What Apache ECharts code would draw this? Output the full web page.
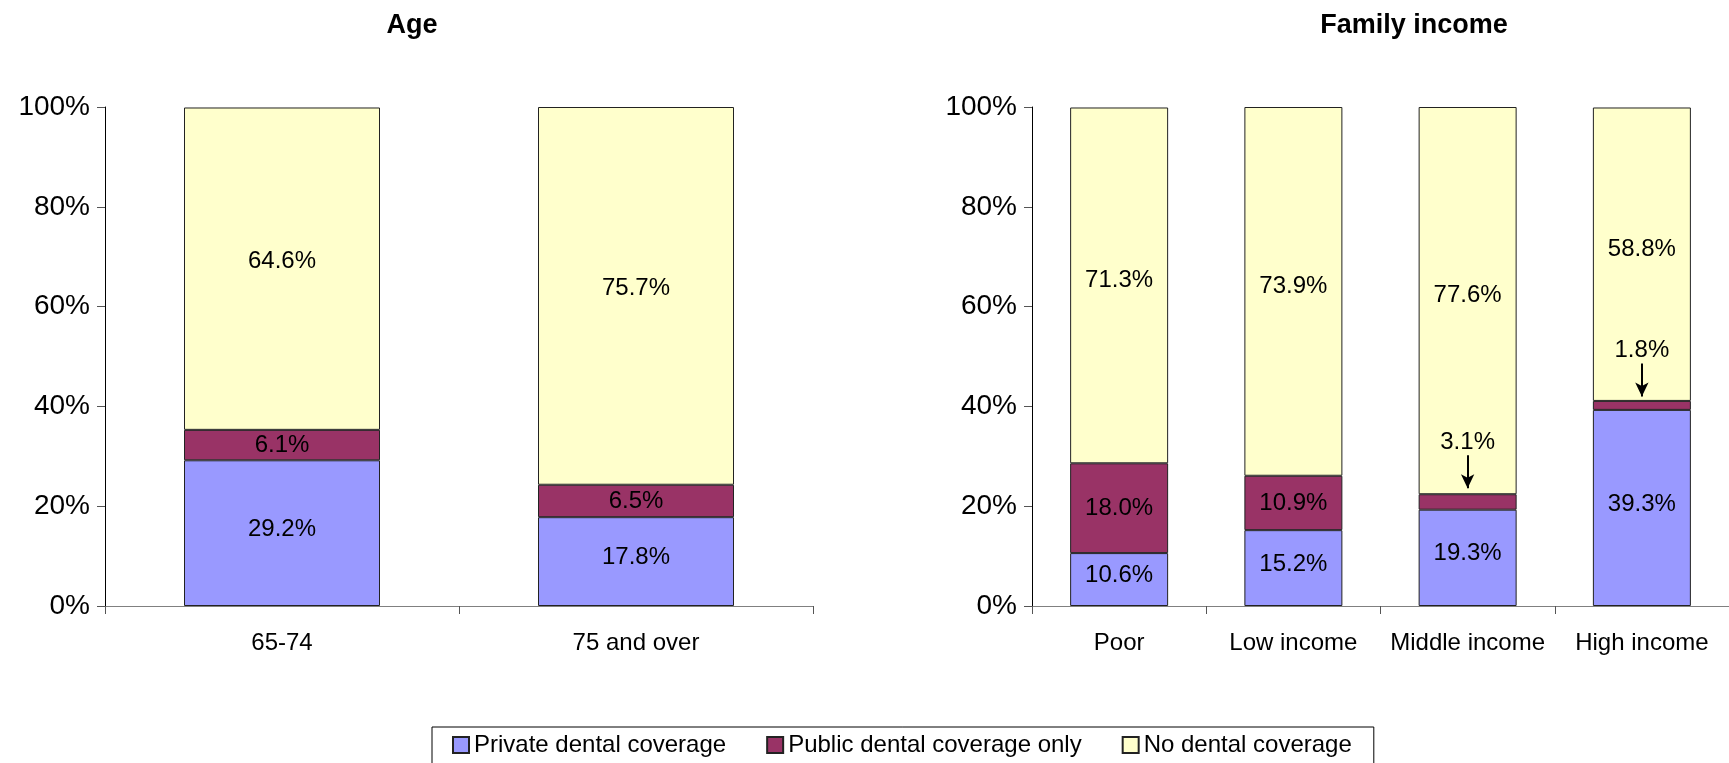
<!DOCTYPE html>
<html>
<head>
<meta charset="utf-8">
<script src="https://cdn.jsdelivr.net/npm/echarts@6/dist/echarts.min.js"></script>
<style>
html,body{margin:0;padding:0;background:#fff;}
#chart{width:1729px;height:763px;}
</style>
</head>
<body>
<div id="chart"></div>
<script>
// data
var ageCats = ['65-74', '75 and over'];
var agePrivate = [29.2, 17.8];
var agePublic = [6.1, 6.5];
var ageNone = [64.6, 75.7];

var incCats = ['Poor', 'Low income', 'Middle income', 'High income'];
var incPrivate = [10.6, 15.2, 19.3, 39.3];
var incPublic = [18.0, 10.9, 3.1, 1.8];
var incNone = [71.3, 73.9, 77.6, 58.8];

// small segments labelled with an arrow: [category, value, arrow top, arrow bottom]
var arrowNotes = [
	['Middle income', 3.1, 30.2, 23.6],
	['High income', 1.8, 48.6, 42.0]
];

var yTicks = [0, 20, 40, 60, 80, 100];

var FONT = 'Liberation Sans, Arial, sans-serif';
var colors = {priv: '#9999FF', pub: '#993366', none: '#FFFFCC'};
var names = ['Private dental coverage', 'Public dental coverage only', 'No dental coverage'];

function segLabel(dy){
	return {
		show: true,
		position: 'inside',
		offset: [0, dy || 0],
		color: '#000',
		fontFamily: FONT,
		fontSize: 24,
		formatter: function(p){ return p.value.toFixed(1) + '%'; }
	};
}

function barSeries(name, data, color, idx, stack, width, dy){
	return {
		name: name,
		type: 'bar',
		stack: stack,
		xAxisIndex: idx,
		yAxisIndex: idx,
		barWidth: width,
		data: data,
		itemStyle: {color: color, borderColor: '#222', borderWidth: 1},
		label: segLabel(dy)
	};
}

function xAx(idx, cats){
	return {
		type: 'category',
		gridIndex: idx,
		data: cats,
		axisLine: {show: true, lineStyle: {color: '#808080', width: 1}},
		axisTick: {show: true, length: 8, lineStyle: {color: '#555'}},
		axisLabel: {color: '#000', fontFamily: FONT, fontSize: 24, margin: 25, interval: 0}
	};
}

function yAx(idx){
	return {
		type: 'value',
		gridIndex: idx,
		min: yTicks[0],
		max: yTicks[yTicks.length - 1],
		interval: yTicks[1] - yTicks[0],
		splitLine: {show: false},
		axisLine: {show: true, lineStyle: {color: '#000', width: 1}},
		axisTick: {show: true, length: 8, lineStyle: {color: '#555'}},
		axisLabel: {color: '#000', fontFamily: FONT, fontSize: 28, margin: 15, formatter: '{value}%'}
	};
}

// public series of the income chart: hide labels of tiny segments
var incPublicData = incPublic.map(function(v, i){
	var noted = arrowNotes.some(function(a){ return a[0] === incCats[i]; });
	return noted ? {value: v, label: {show: false}} : v;
});

var incPublicSeries = barSeries(names[1], incPublicData, colors.pub, 1, 'inc', 98);
incPublicSeries.markLine = {
	silent: true,
	symbol: ['none', 'arrow'],
	symbolSize: [10, 14],
	lineStyle: {color: '#000', width: 2, type: 'solid'},
	label: {
		show: true,
		position: 'start',
		distance: 1,
		color: '#000',
		fontFamily: FONT,
		fontSize: 24
	},
	data: arrowNotes.map(function(a){
		return [
			{coord: [a[0], a[2]], label: {formatter: a[1].toFixed(1) + '%'}},
			{coord: [a[0], a[3]]}
		];
	})
};

var titleStyle = {fontFamily: FONT, fontSize: 27, fontWeight: 'bold', color: '#000'};

var chart = echarts.init(document.getElementById('chart'));
chart.setOption({
	animation: false,
	backgroundColor: '#fff',
	color: [colors.priv, colors.pub, colors.none],
	title: [
		{text: 'Age', left: 407, top: 7, textAlign: 'center', textStyle: titleStyle},
		{text: 'Family income', left: 1409, top: 7, textAlign: 'center', textStyle: titleStyle}
	],
	legend: {
		data: names,
		left: 432,
		top: 727,
		orient: 'horizontal',
		itemWidth: 16,
		itemHeight: 16,
		itemGap: 40,
		icon: 'rect',
		padding: [6, 22, 20, 20],
		borderColor: '#000',
		borderWidth: 1,
		selectedMode: false,
		textStyle: {fontFamily: FONT, fontSize: 24, color: '#000'}
	},
	grid: [
		{left: 105, width: 708, top: 107, height: 499},
		{left: 1032, width: 697, top: 107, height: 499}
	],
	xAxis: [xAx(0, ageCats), xAx(1, incCats)],
	yAxis: [yAx(0), yAx(1)],
	series: [
		barSeries(names[0], agePrivate, colors.priv, 0, 'age', 196, -4),
		barSeries(names[1], agePublic, colors.pub, 0, 'age', 196),
		barSeries(names[2], ageNone, colors.none, 0, 'age', 196, -7),
		barSeries(names[0], incPrivate, colors.priv, 1, 'inc', 98, -4),
		incPublicSeries,
		barSeries(names[2], incNone, colors.none, 1, 'inc', 98, -5)
	]
});
</script>
</body>
</html>
